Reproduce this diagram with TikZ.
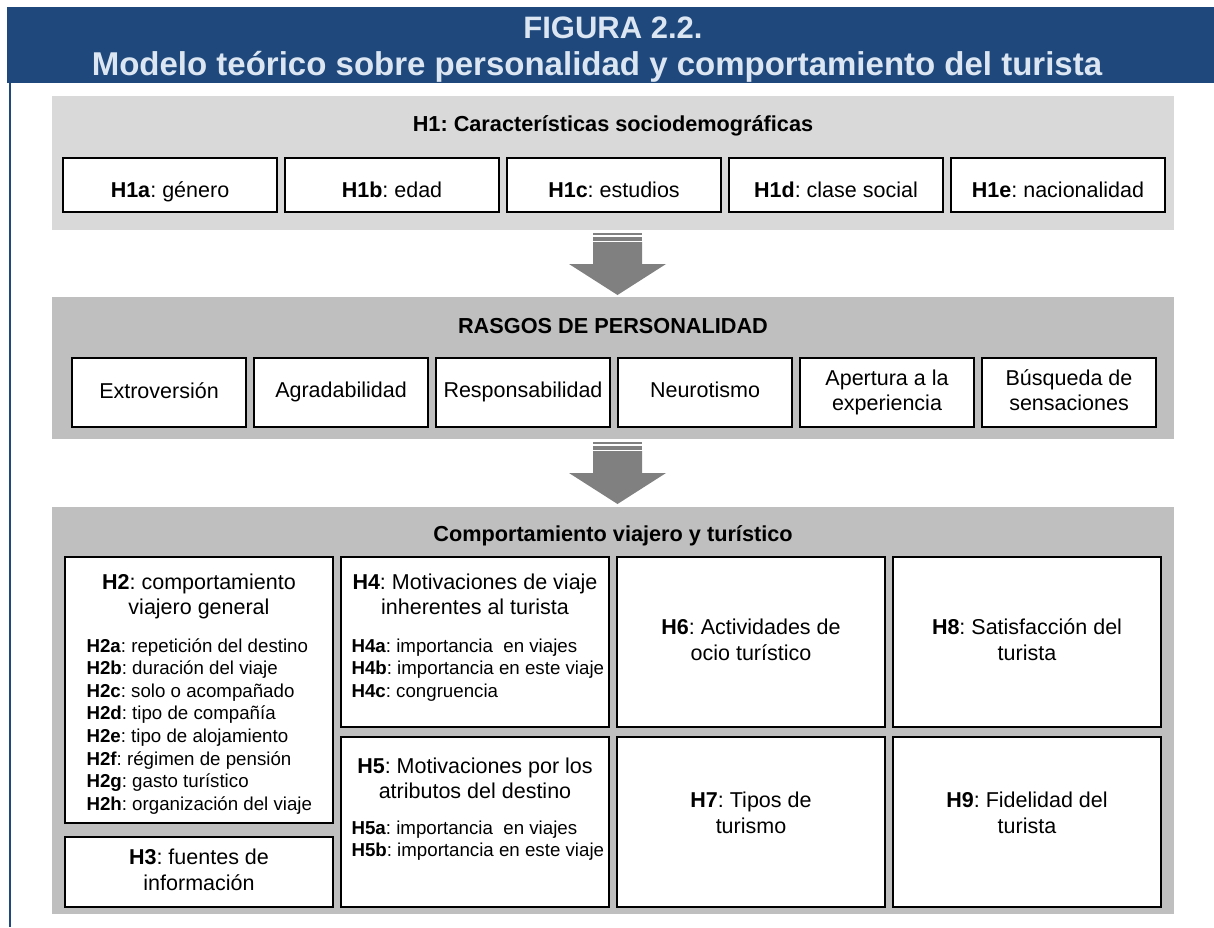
\documentclass[tikz,border=0pt]{standalone}
\usepackage{fontspec}
\setmainfont{Liberation Sans}
\usepackage{tikz}
\usetikzlibrary{positioning,calc}
\frenchspacing

\definecolor{bandblue}{RGB}{31,73,125}
\definecolor{headtext}{RGB}{220,230,242}
\definecolor{panellight}{RGB}{217,217,217}
\definecolor{paneldark}{RGB}{191,191,191}
\definecolor{arrowgray}{RGB}{128,128,128}

\newcommand{\bodyfont}{\fontsize{21.5}{25.5}\selectfont}
\newcommand{\listfont}{\fontsize{18.7}{22.6}\selectfont}
\newcommand{\titlefont}{\fontsize{21.7}{26}\selectfont\bfseries}
\newcommand{\cellstrut}{\rule[-4.6pt]{0pt}{20pt}}
\newcommand{\newCell}[4]{\node[#3](#1)[#4]{#2};}
\newcommand{\newArrow}[1]{%
  \begin{scope}[shift={#1}]
    \fill[arrowgray] (-24.5,0) rectangle (24.5,2.3);
    \fill[arrowgray] (-24.5,3.7) rectangle (24.5,7.7);
    \fill[arrowgray] (-24.5,9) -- (24.5,9) -- (24.5,31) -- (48.5,31)
      -- (0,62) -- (-48.5,31) -- (-24.5,31) -- cycle;
  \end{scope}}

\begin{document}
\begin{tikzpicture}[
    % One unit is one pixel, y runs down the page
    x=1pt, y=-1pt,
    % Grey bands behind each group
    panel/.style={inner sep=0pt, outer sep=0pt, anchor=north west, minimum width=1122pt},
    % White boxes
    cell/.style={draw=black, line width=1.4pt, fill=white, inner sep=0pt, outer sep=0pt,
      align=center, font=\bodyfont, anchor=north west,
      execute at begin node=\cellstrut, execute at end node=\cellstrut},
    socio/.style={cell, minimum width=214pt, minimum height=54pt,
      execute at begin node=\rule{0pt}{30pt}},
    trait/.style={cell, minimum width=174pt, minimum height=69pt},
    travel/.style={cell, minimum width=268pt, minimum height=170pt},
    raised/.style={execute at end node=\rule[-18.6pt]{0pt}{1pt}},
    % Texts (base = last line)
    title/.style={anchor=base, font=\titlefont},
    head/.style={anchor=base, align=center, font=\bodyfont},
    list/.style={anchor=base west, align=left, font=\listfont},
    % Gap between boxes
    node distance=8pt
    ]
    \useasboundingbox (0,0) rectangle (1214,927);

    % header
    \newCell{band}{}{panel, fill=bandblue, minimum width=1207pt, minimum height=76pt}{at={(7,7)}}
    \coordinate (lineend) at (10.3,927);
    \draw[bandblue, line width=2pt] (band.south west -| lineend) -- (lineend);
    \node[anchor=base, text=headtext, font=\fontsize{31}{31}\selectfont\bfseries] (figtitle)
      at (613,38) {FIGURA 2.2.};
    \node[anchor=base, text=headtext, font=\fontsize{33}{33}\selectfont\bfseries] (figsubtitle)
      at (597,75) {Modelo teórico sobre personalidad y comportamiento del turista};

    % H1
    \newCell{sociopanel}{}{panel, fill=panellight, minimum height=134pt}{at={(52,96)}}
    \node[title] (sociotitle) at (613,131.7) {H1: Características sociodemográficas};
    \newCell{h1a}{\textbf{H1a}: género}{socio}{at={(63,158)}}
    \newCell{h1b}{\textbf{H1b}: edad}{socio}{right=of h1a}
    \newCell{h1c}{\textbf{H1c}: estudios}{socio}{right=of h1b}
    \newCell{h1d}{\textbf{H1d}: clase social}{socio}{right=of h1c}
    \newCell{h1e}{\textbf{H1e}: nacionalidad}{socio}{right=of h1d}

    \newArrow{([xshift=4.5pt,yshift=-3pt]sociopanel.south)}

    % rasgos
    \newCell{traitpanel}{}{panel, fill=paneldark, minimum height=142pt}{at={(52,297)}}
    \node[title] (traittitle) at (613,333) {RASGOS DE PERSONALIDAD};
    \newCell{extro}{Extroversión}{trait}{at={(72,358)}}
    \newCell{agrad}{Agradabilidad}{trait}{right=of extro}
    \newCell{respon}{Responsabilidad}{trait}{right=of agrad}
    \newCell{neuro}{Neurotismo}{trait}{right=of respon}
    \newCell{apert}{Apertura a la\\experiencia}{trait}{right=of neuro}
    \newCell{busq}{Búsqueda de\\sensaciones}{trait}{right=of apert}

    \newArrow{([xshift=4.5pt,yshift=-3pt]traitpanel.south)}

    % comportamiento
    \newCell{travelpanel}{}{panel, fill=paneldark, minimum height=407pt}{at={(52,507)}}
    \node[title] (traveltitle) at (613,541.7) {Comportamiento viajero y turístico};
    \newCell{h2}{}{travel, minimum height=266pt}{at={(65,557)}}
    \newCell{h3}{\textbf{H3}: fuentes de\\información}{travel, minimum height=70pt}{below=14pt of h2}
    \newCell{h4}{}{travel}{at={(341,557)}}
    \newCell{h5}{}{travel}{below=10pt of h4}
    \newCell{h6}{\textbf{H6}: Actividades de\\ocio turístico}{travel}{at={(617,557)}}
    \newCell{h7}{\textbf{H7}: Tipos de\\turismo}{travel, raised}{below=10pt of h6}
    \newCell{h8}{\textbf{H8}: Satisfacción del\\turista}{travel}{at={(893,557)}}
    \newCell{h9}{\textbf{H9}: Fidelidad del\\turista}{travel, raised}{below=10pt of h8}

    \node[head] (h2head) at ([yshift=-57.5pt]h2.north) {\textbf{H2}: comportamiento\\viajero general};
    \node[list] (h2list) at ([xshift=18pt,yshift=-253.2pt]h2.north west) {%
      \textbf{H2a}: repetición del destino\\
      \textbf{H2b}: duración del viaje\\
      \textbf{H2c}: solo o acompañado\\
      \textbf{H2d}: tipo de compañía\\
      \textbf{H2e}: tipo de alojamiento\\
      \textbf{H2f}: régimen de pensión\\
      \textbf{H2g}: gasto turístico\\
      \textbf{H2h}: organización del viaje};
    \node[head] (h4head) at ([yshift=-57.5pt]h4.north) {\textbf{H4}: Motivaciones de viaje\\inherentes al turista};
    \node[list] (h4list) at ([xshift=7pt,yshift=-140.2pt]h4.north west) {%
      \textbf{H4a}: importancia~ en viajes\\
      \textbf{H4b}: importancia en este viaje\\
      \textbf{H4c}: congruencia};
    \node[head] (h5head) at ([yshift=-61.5pt]h5.north) {\textbf{H5}: Motivaciones por los\\atributos del destino};
    \node[list] (h5list) at ([xshift=7pt,yshift=-119.6pt]h5.north west) {%
      \textbf{H5a}: importancia~ en viajes\\
      \textbf{H5b}: importancia en este viaje};
\end{tikzpicture}
\end{document}
